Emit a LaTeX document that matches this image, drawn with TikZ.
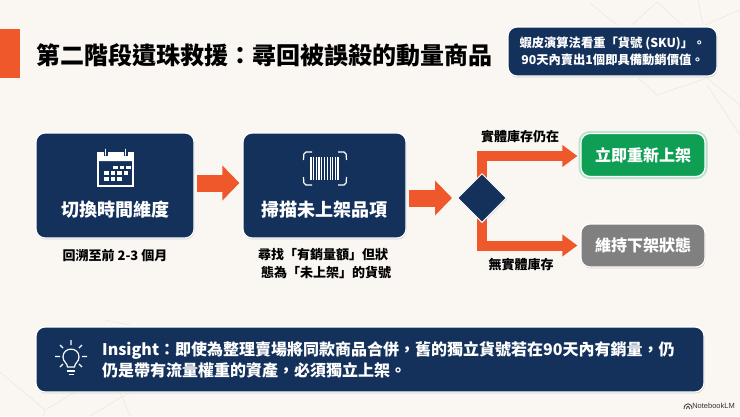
\documentclass[tikz,border=0pt]{standalone}
\usepackage{fontspec}
\setmainfont{Noto Sans CJK TC}
\newfontfamily\logofont{Liberation Sans}
\usetikzlibrary{arrows.meta,shapes.geometric,shadows,backgrounds}
\definecolor{navy}{HTML}{14315C}
\definecolor{flame}{HTML}{EE582B}
\definecolor{paper}{HTML}{FAF7F2}
\definecolor{okgreen}{HTML}{0E9F54}
\definecolor{holdgrey}{HTML}{808080}
\definecolor{webline}{HTML}{ECE9E3}
\tikzset{
  softbox/.style={rounded corners=9pt, draw=white, line width=1.2pt, drop shadow={opacity=0.3, shadow xshift=0.6pt, shadow yshift=-1.4pt}},
  stagebox/.style={softbox, fill=navy, minimum width=158pt, minimum height=105pt},
  resultbox/.style={softbox, minimum width=124pt, minimum height=43pt},
  flowarrow/.style={draw=flame, line width=10pt, -{Triangle[length=15pt,width=21pt]}, shorten >=3pt, shorten <=-8pt},
  stagearrow/.style={draw=flame, line width=17pt, -{Triangle[length=17pt,width=34pt]}, shorten >=3pt, shorten <=2pt},
  boxtext/.style={text=white, font=\bfseries\fontsize{18}{22}\selectfont},
  subtext/.style={text=black, font=\bfseries\fontsize{13}{18}\selectfont, align=center},
  icon/.style={draw=white, line width=1.2pt},
}
\begin{document}
\begin{tikzpicture}[x=1pt,y=-1pt]
\useasboundingbox (0,0) rectangle (740,416);

% Title
\fill[flame] (0,29) rectangle (20,78);
\node[anchor=west, inner sep=0pt, font=\bfseries\fontsize{24}{28}\selectfont] (title) at (36,55) {第二階段遺珠救援：尋回被誤殺的動量商品};

% SKU note
\node[softbox, fill=navy, minimum width=209pt, minimum height=49pt, text=white, align=center, font=\bfseries\fontsize{12.3}{17}\selectfont] (note) at (612.5,51.5) {蝦皮演算法看重「貨號 (SKU)」。\\90天內賣出1個即具備動銷價值。};

% Stage 1
\node[stagebox] (timebox) at (115,185.5) {};
\node[boxtext] (timetitle) at (115,210) {切換時間維度};
\node[subtext] (timesub) at (115,256) {回溯至前 2-3 個月};
\fill[white, rounded corners=1.5pt] (97.5,153) rectangle (133.5,161);
\draw[icon] (98,153) rectangle (133,186);
\foreach \x in {105.5,125.5} {
  \draw[navy, line width=4pt] (\x,149.5) -- (\x,156);
  \draw[white, line width=1.6pt, line cap=round] (\x,149.5) -- (\x,155);
}
\foreach \x/\y in {113/165.5,119.5/165.5,126/165.5,104/171,110.5/171,117/171,123.5/171,104/177,110.5/177,117/177} \fill[white] (\x,\y) rectangle +(4.5,3.5);

% Stage 2
\node[stagebox, minimum width=163pt] (scanbox) at (324.5,185.5) {};
\node[boxtext] (scantitle) at (324.5,210) {掃描未上架品項};
\node[subtext] (scansub) at (323,264) {尋找「有銷量額」但狀\\\hspace*{6pt}態為「未上架」的貨號};
\draw[icon, rounded corners=2pt] (312,152) -- (304,152) -- (303.5,160) (338,152) -- (346,152) -- (346.5,160) (312,185) -- (304,185) -- (303.5,177) (338,185) -- (346,185) -- (346.5,177);
\foreach \x/\w in {310/1.6,313/1.0,315.5/1.0,318/1.6,321/1.0,324/1.0,326.5/1.6,329.5/1.0,332/1.0,334.5/1.0,337/1.6} \fill[white] (\x,157) rectangle +(\w,23);

% Decision
\node[diamond, aspect=1, fill=navy, draw=white, line width=1pt, inner sep=0pt, minimum width=49pt, minimum height=49pt, drop shadow={opacity=0.3, shadow xshift=0.6pt, shadow yshift=-1.2pt}] (check) at (482,198) {};

% Results
\node[resultbox, fill=okgreen, preaction={draw=okgreen!30, line width=5pt}, text=white, font=\bfseries\fontsize{16}{20}\selectfont] (relist) at (643,155) {立即重新上架};
\node[resultbox, fill=holdgrey, text=white, font=\bfseries\fontsize{16}{20}\selectfont] (keepoff) at (643,245.5) {維持下架狀態};
\node[subtext] (yeslabel) at (520,137) {實體庫存仍在};
\node[subtext] (nolabel) at (521,265) {無實體庫存};

% Arrows
\draw[stagearrow] ([yshift=2.5pt]timebox.east) -- ([yshift=2.5pt]scanbox.west);
\draw[stagearrow, shorten >=5pt] (scanbox.east |- check) -- (check.west);

% Insight
\node[softbox, fill=navy, minimum width=668pt, minimum height=65pt] (insight) at (370,359.5) {};
\node[anchor=west, inner sep=0pt, text=white, align=left, font=\bfseries\fontsize{16}{21}\selectfont] (insighttext) at (102,359.5) {Insight：即使為整理賣場將同款商品合併，舊的獨立貨號若在90天內有銷量，仍\\仍是帶有流量權重的資產，必須獨立上架。};
\draw[icon] (67.5,367) .. controls (67.5,363) and (63,362) .. (63,357) .. controls (63,346.5) and (79,346.5) .. (79,357) .. controls (79,362) and (74.5,363) .. (74.5,367) -- cycle;
\draw[icon] (67,371) -- (75,371) (68.5,374.5) -- (73.5,374.5);
\draw[icon] (55,356.5) -- (60,356.5) (82,356.5) -- (87,356.5) (71,340) -- (71,345) (60,345) -- (63,348) (82,345) -- (79,348) (60,367) -- (63,364) (82,367) -- (79,364);

% Watermark
\node[anchor=east, inner sep=0pt, font=\logofont\fontsize{7.5}{9}\selectfont, text=black!80] (brand) at (735,406) {NotebookLM};
\draw[black!80, line width=0.8pt] (684,409) .. controls (684,402) and (692,402) .. (692,409) (686.5,409) .. controls (686.5,405.5) and (689.5,405.5) .. (689.5,409);

% Background web and the two branches behind the diamond
\begin{scope}[on background layer]
\fill[paper] (0,0) rectangle (740,416);
\draw[webline, line width=0.6pt] (590,3) -- (617,25) (657,2) -- (632,25) (657,2) -- (682,25) (698,0) -- (703,25) (740,10) -- (705,25);
\draw[webline, line width=0.6pt] (638,78) -- (657,95) -- (707,78) -- (740,105) (707,85) -- (740,135);
\draw[webline, line width=0.6pt] (0,372) -- (45,410) -- (75,392) (45,410) -- (43,416) (105,320) -- (130,325) (90,416) -- (130,392) (120,392) -- (130,416);
\draw[flowarrow] (check.north) |- ([yshift=-1pt]relist.west);
\draw[flowarrow] (check.south) |- (keepoff.west);
\end{scope}
\end{tikzpicture}
\end{document}
